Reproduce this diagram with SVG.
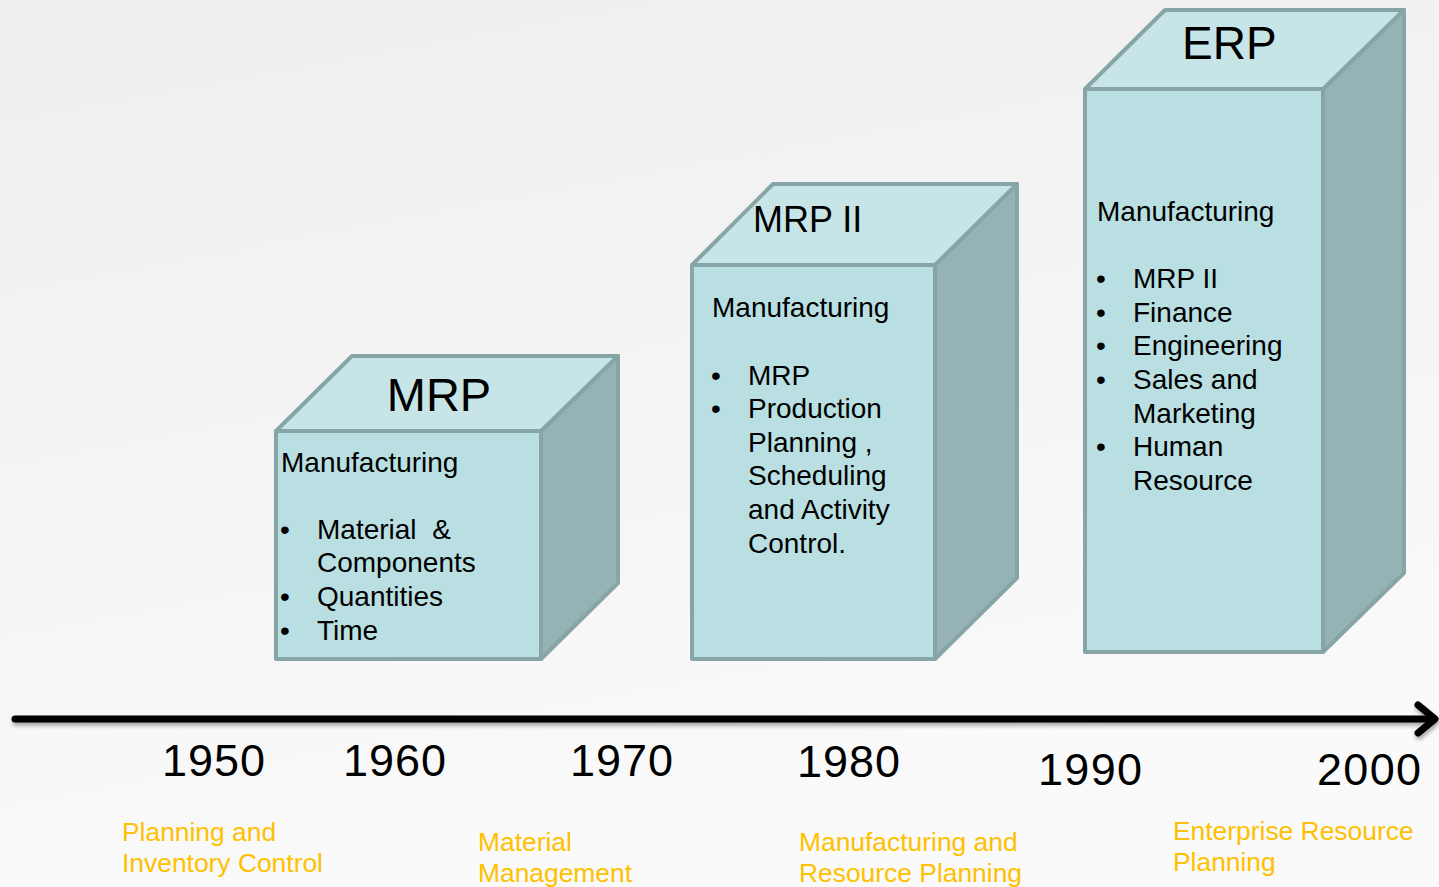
<svg xmlns="http://www.w3.org/2000/svg" width="1439" height="887" viewBox="0 0 1439 887">
  <defs>
    <linearGradient id="bg" x1="0" y1="0" x2="0.3" y2="1">
      <stop offset="0" stop-color="#eeeeef"/>
      <stop offset="1" stop-color="#fafafa"/>
    </linearGradient>
    <filter id="shadow" x="-5%" y="-50%" width="110%" height="300%">
      <feGaussianBlur in="SourceAlpha" stdDeviation="2"/>
      <feOffset dx="1" dy="3" result="b"/>
      <feComponentTransfer><feFuncA type="linear" slope="0.35"/></feComponentTransfer>
      <feMerge><feMergeNode/><feMergeNode in="SourceGraphic"/></feMerge>
    </filter>
    <style>
      .front { fill: #b9dfe2; stroke: #87a5a6; stroke-width: 4; stroke-linejoin: round; }
      .top { fill: #c7e5e7; stroke: #87a5a6; stroke-width: 4; stroke-linejoin: round; }
      .side { fill: #95b3b4; stroke: #87a5a6; stroke-width: 4; stroke-linejoin: round; }
      .title { font-family: "Liberation Sans", Arial, sans-serif; fill: #000; }
      .body { font-family: "Liberation Sans", Arial, sans-serif; font-size: 28px; fill: #000; white-space: pre; }
      .year { font-family: "Liberation Sans", Arial, sans-serif; font-size: 45px; fill: #000; }
      .era { font-family: "Liberation Sans", Arial, sans-serif; font-size: 26.4px; fill: #ffc000; }
      .axis { fill: none; stroke: #000; stroke-width: 7; stroke-linecap: round; stroke-linejoin: round; }
    </style>
  </defs>

  <rect x="0" y="0" width="1439" height="887" fill="url(#bg)"/>

  <!-- MRP block -->
  <g id="mrp">
    <polygon class="side" points="541,431 618,356 618,583 541,659"/>
    <polygon class="top" points="276,431 352,356 618,356 541,431"/>
    <rect class="front" x="276" y="431" width="265" height="228"/>
    <text class="title" x="439" y="411" font-size="47" text-anchor="middle">MRP</text>
    <text class="body" x="281" y="472">Manufacturing</text>
    <text class="body" x="280" y="539">•</text>
    <text class="body" x="317" y="539" xml:space="preserve">Material  &amp;</text>
    <text class="body" x="317" y="572">Components</text>
    <text class="body" x="280" y="606">•</text>
    <text class="body" x="317" y="606">Quantities</text>
    <text class="body" x="280" y="640">•</text>
    <text class="body" x="317" y="640">Time</text>
  </g>

  <!-- MRP II block -->
  <g id="mrp2">
    <polygon class="side" points="935,265 1017,184 1017,578 935,659"/>
    <polygon class="top" points="692,265 773,184 1017,184 935,265"/>
    <rect class="front" x="692" y="265" width="243" height="394"/>
    <text class="title" x="753" y="232" font-size="36">MRP II</text>
    <text class="body" x="712" y="317">Manufacturing</text>
    <text class="body" x="711" y="385">•</text>
    <text class="body" x="748" y="385">MRP</text>
    <text class="body" x="711" y="418">•</text>
    <text class="body" x="748" y="418">Production</text>
    <text class="body" x="748" y="452">Planning ,</text>
    <text class="body" x="748" y="485">Scheduling</text>
    <text class="body" x="748" y="519">and Activity</text>
    <text class="body" x="748" y="553">Control.</text>
  </g>

  <!-- ERP block -->
  <g id="erp">
    <polygon class="side" points="1323,89 1404,10 1404,573 1323,652"/>
    <polygon class="top" points="1085,89 1165,10 1404,10 1323,89"/>
    <rect class="front" x="1085" y="89" width="238" height="563"/>
    <text class="title" x="1182" y="59" font-size="46">ERP</text>
    <text class="body" x="1097" y="221">Manufacturing</text>
    <text class="body" x="1096" y="288">•</text>
    <text class="body" x="1133" y="288">MRP II</text>
    <text class="body" x="1096" y="322">•</text>
    <text class="body" x="1133" y="322">Finance</text>
    <text class="body" x="1096" y="355">•</text>
    <text class="body" x="1133" y="355">Engineering</text>
    <text class="body" x="1096" y="389">•</text>
    <text class="body" x="1133" y="389">Sales and</text>
    <text class="body" x="1133" y="423">Marketing</text>
    <text class="body" x="1096" y="456">•</text>
    <text class="body" x="1133" y="456">Human</text>
    <text class="body" x="1133" y="490">Resource</text>
  </g>

  <!-- time axis -->
  <g id="connectors" filter="url(#shadow)">
    <line class="axis" x1="15" y1="719" x2="1433" y2="719"/>
    <polyline class="axis" points="1418,705 1435,719 1418,733"/>
  </g>

  <!-- year labels -->
  <g id="years">
    <text class="year" x="162" y="776" textLength="103">1950</text>
    <text class="year" x="343" y="776" textLength="103">1960</text>
    <text class="year" x="570" y="776" textLength="103">1970</text>
    <text class="year" x="797" y="777" textLength="103">1980</text>
    <text class="year" x="1038" y="785" textLength="104">1990</text>
    <text class="year" x="1317" y="785" textLength="104">2000</text>
  </g>

  <!-- era labels -->
  <g id="eras">
    <text class="era" x="122" y="841">Planning and</text>
    <text class="era" x="122" y="872">Inventory Control</text>
    <text class="era" x="478" y="851">Material</text>
    <text class="era" x="478" y="882">Management</text>
    <text class="era" x="799" y="851">Manufacturing and</text>
    <text class="era" x="799" y="882">Resource Planning</text>
    <text class="era" x="1173" y="840">Enterprise Resource</text>
    <text class="era" x="1173" y="871">Planning</text>
  </g>
</svg>
